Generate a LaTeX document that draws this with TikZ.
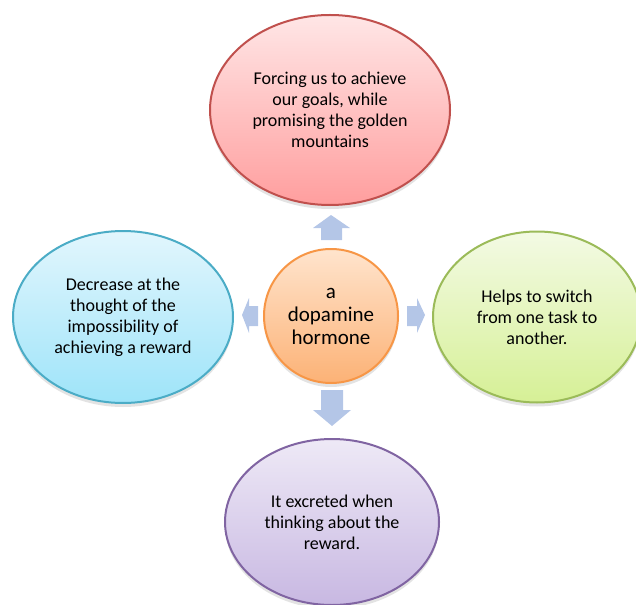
\documentclass[tikz,border=0pt]{standalone}
\usepackage{fontspec}
\setmainfont{Carlito}
\usetikzlibrary{shapes.geometric,shadows}
\definecolor{redB}{RGB}{192,80,77}
\definecolor{redT}{RGB}{255,230,230}
\definecolor{redD}{RGB}{255,158,158}
\definecolor{grnB}{RGB}{155,187,89}
\definecolor{grnT}{RGB}{243,250,228}
\definecolor{grnD}{RGB}{214,240,150}
\definecolor{bluB}{RGB}{75,172,198}
\definecolor{bluT}{RGB}{226,246,253}
\definecolor{bluD}{RGB}{158,228,249}
\definecolor{purB}{RGB}{128,100,162}
\definecolor{purT}{RGB}{238,233,246}
\definecolor{purD}{RGB}{200,184,226}
\definecolor{orgB}{RGB}{247,150,70}
\definecolor{orgT}{RGB}{255,228,205}
\definecolor{orgD}{RGB}{252,178,118}
\definecolor{arrowC}{RGB}{180,198,231}
\tikzset{
  bubble/.style={ellipse, line width=2pt, inner sep=0pt, align=center,
    font=\fontsize{18}{21}\selectfont,
    drop shadow={shadow xshift=0pt, shadow yshift=-4pt, opacity=0.18, fill=black!60}},
  blockarrow/.style={fill=arrowC, draw=none}
}
\begin{document}
\begin{tikzpicture}[x=1pt,y=-1pt]
\useasboundingbox (0,0) rectangle (636,604);
% outer bubbles
\node[bubble, draw=redB, top color=redT, bottom color=redD,
      minimum width=240, minimum height=190] (top) at (330,110)
  {Forcing us to achieve\\our goals, while\\promising the golden\\mountains};
\node[bubble, draw=bluB, top color=bluT, bottom color=bluD,
      minimum width=220, minimum height=172] (left) at (123,317)
  {Decrease at the\\thought of the\\impossibility of\\achieving a reward};
\node[bubble, draw=grnB, top color=grnT, bottom color=grnD,
      minimum width=208, minimum height=171] (right) at (537,317)
  {Helps to switch\\from one task to\\another.};
\node[bubble, draw=purB, top color=purT, bottom color=purD,
      minimum width=214, minimum height=166] (bottom) at (332,522)
  {It excreted when\\thinking about the\\reward.};
% center
\node[bubble, circle, draw=orgB, top color=orgT, bottom color=orgD,
      minimum size=134, font=\fontsize{21}{23}\selectfont] (center) at (331,316)
  {a\\dopamine\\hormone};
% block arrows
\fill[blockarrow] (331,215) -- (350,228) -- (342,228) -- (342,240) -- (321,240) -- (321,228) -- (313,228) -- cycle;
\fill[blockarrow] (321,390) -- (343,390) -- (343,410) -- (351,410) -- (332,426) -- (313,410) -- (321,410) -- cycle;
\fill[blockarrow] (242,315) -- (249,298) -- (249,306) -- (258,306) -- (258,326) -- (249,326) -- (249,333) -- cycle;
\fill[blockarrow] (407,306) -- (417,306) -- (417,298) -- (425,315) -- (417,333) -- (417,326) -- (407,326) -- cycle;
\end{tikzpicture}
\end{document}
